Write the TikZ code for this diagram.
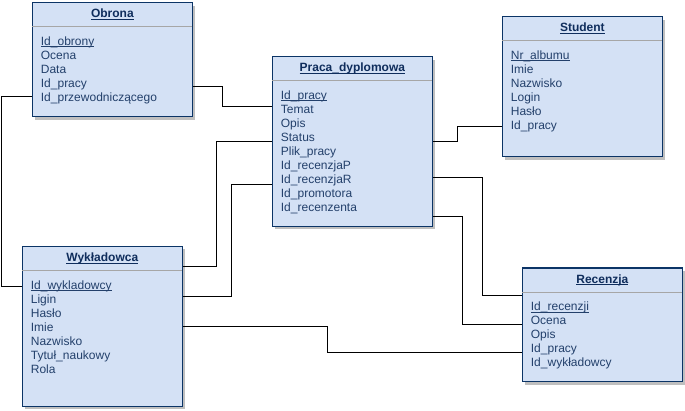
\documentclass[tikz,border=0pt]{standalone}
\usepackage{fontspec}
\setmainfont{Liberation Sans}
\usetikzlibrary{shadows}

\definecolor{tabfill}{HTML}{D4E1F5}
\definecolor{tabline}{HTML}{0B3466}
\definecolor{tabtext}{HTML}{23406B}
\definecolor{tabtitle}{HTML}{0F2D5C}
\definecolor{tabsep}{HTML}{A6A6A6}

\newlength{\ulwd}
\newcommand{\ulin}[1]{\settowidth{\ulwd}{#1}\rlap{#1}\rule[-1.8pt]{\ulwd}{0.8pt}}

\begin{document}
\begin{tikzpicture}[x=1pt,y=-1pt,
    every node/.style={font=\fontsize{12}{14}\selectfont},
    table/.style={draw=tabline, fill=tabfill, line width=1.3pt, minimum width=160,
      anchor=north west, inner sep=0,
      drop shadow={shadow xshift=3pt, shadow yshift=-3pt, fill=black!25, opacity=1}},
    ttl/.style={anchor=base, inner sep=0, text=tabtitle, font=\fontsize{12}{14}\selectfont\bfseries},
    fields/.style={anchor=north west, inner sep=0, align=left, text=tabtext},
    sepline/.style={draw=tabsep, line width=1pt},
    link/.style={draw=black, line width=1.1pt}]

      \useasboundingbox (0,0) rectangle (685,411);

      % tabele
      \node[table, minimum height=114] (obrona) at (31.7,2) {};
      \node[table, minimum height=169.7] (praca) at (271.7,56) {};
      \node[table, minimum height=140] (student) at (501.7,16) {};
      \node[table, minimum height=160] (wykladowca) at (21.7,245.7) {};
      \node[table, minimum height=113.7] (recenzja) at (521.7,267.3) {};

      % powiazania
      \begin{scope}[link]
        \draw ([yshift=-84.5pt]obrona.north east) -- ++(29.8,0) |- ([yshift=-50.5pt]praca.north west);
        \draw ([yshift=-94.5pt]obrona.north west) -- ++(-30.2,0) |- ([yshift=-40.8pt]wykladowca.north west);
        \draw ([yshift=-85.5pt]praca.north east) -- ++(24.8,0) |- ([yshift=-110.5pt]student.north west);
        \draw ([yshift=-85.5pt]praca.north west) -- ++(-55.2,0) |- ([yshift=-20.8pt]wykladowca.north east);
        \draw ([yshift=-128.5pt]praca.north west) -- ++(-40.2,0) |- ([yshift=-50.8pt]wykladowca.north east);
        \draw ([yshift=-80.8pt]wykladowca.north east) -- ++(144.8,0) |- ([yshift=-85.2pt]recenzja.north west);
        \draw ([yshift=-121.5pt]praca.north east) -- ++(49.8,0) |- ([yshift=-28.2pt]recenzja.north west);
        \draw ([yshift=-160.5pt]praca.north east) -- ++(29.8,0) |- ([yshift=-57.2pt]recenzja.north west);
      \end{scope}

      \foreach \tab in {obrona,praca,student,wykladowca,recenzja}
        \draw[sepline] ([shift={(0.7pt,-25pt)}]\tab.north west) -- ([shift={(-0.7pt,-25pt)}]\tab.north east);

      \node[ttl] (obrona-t) at ([yshift=-16pt]obrona.north) {\ulin{Obrona}};
      \node[ttl] (praca-t) at ([yshift=-16pt]praca.north) {\ulin{Praca\_dyplomowa}};
      \node[ttl] (student-t) at ([yshift=-16pt]student.north) {\ulin{Student}};
      \node[ttl] (wykladowca-t) at ([yshift=-16pt]wykladowca.north) {\ulin{Wykładowca}};
      \node[ttl] (recenzja-t) at ([yshift=-16pt]recenzja.north) {\ulin{Recenzja}};

      \node[fields] (obrona-f) at ([shift={(9pt,-34.5pt)}]obrona.north west)
        {\ulin{Id\_obrony}\\Ocena\\Data\\Id\_pracy\\Id\_przewodniczącego};
      \node[fields] (praca-f) at ([shift={(9pt,-34.5pt)}]praca.north west)
        {\ulin{Id\_pracy}\\Temat\\Opis\\Status\\Plik\_pracy\\Id\_recenzjaP\\Id\_recenzjaR\\Id\_promotora\\Id\_recenzenta};
      \node[fields] (student-f) at ([shift={(9pt,-34.5pt)}]student.north west)
        {\ulin{Nr\_albumu}\\Imie\\Nazwisko\\Login\\Hasło\\Id\_pracy};
      \node[fields] (wykladowca-f) at ([shift={(9pt,-34.5pt)}]wykladowca.north west)
        {\ulin{Id\_wykladowcy}\\Ligin\\Hasło\\Imie\\Nazwisko\\Tytuł\_naukowy\\Rola};
      \node[fields] (recenzja-f) at ([shift={(9pt,-34.5pt)}]recenzja.north west)
        {\ulin{Id\_recenzji}\\Ocena\\Opis\\Id\_pracy\\Id\_wykładowcy};

    \end{tikzpicture}
\end{document}
